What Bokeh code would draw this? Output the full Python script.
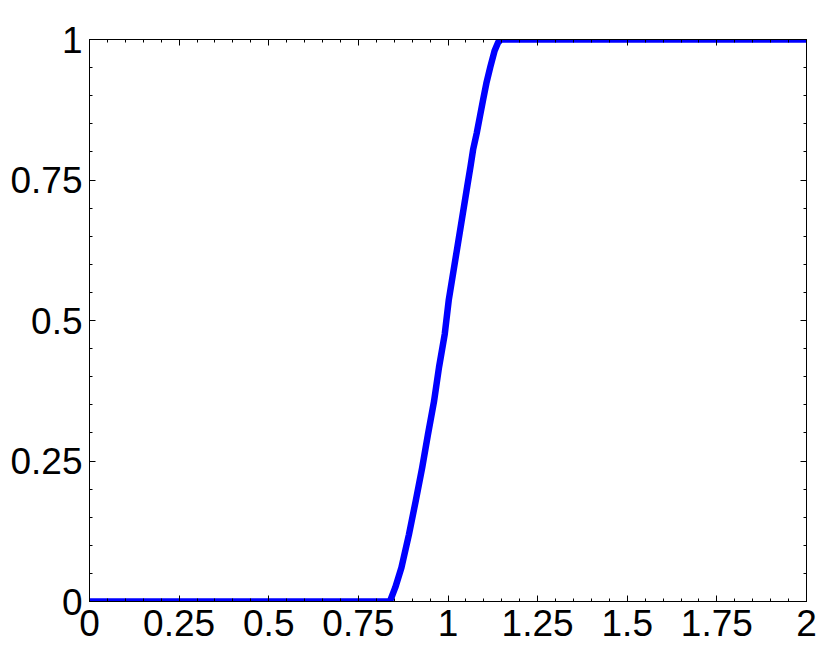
from bokeh.plotting import figure
from bokeh.models import LinearAxis, FixedTicker, Range1d
from bokeh.embed import file_html
from bokeh.resources import INLINE

# data
x_vals = [0.0, 0.838, 0.853, 0.870, 0.891, 0.910, 0.928, 0.944, 0.961, 0.975, 0.991,
          1.002, 1.026, 1.054, 1.063, 1.070, 1.080, 1.089, 1.098, 1.107, 1.118, 1.130,
          1.140, 1.148, 2.0]
y_vals = [0.0, 0.0, 0.025, 0.060, 0.119, 0.179, 0.238, 0.297, 0.356, 0.417, 0.476,
          0.536, 0.630, 0.740, 0.775, 0.804, 0.833, 0.863, 0.893, 0.922, 0.951, 0.980,
          0.995, 1.0, 1.0]

x_ticks = [0, 0.25, 0.5, 0.75, 1, 1.25, 1.5, 1.75, 2]
x_labels = ["0", "0.25", "0.5", "0.75", "1", "1.25", "1.5", "1.75", "2"]
y_ticks = [0, 0.25, 0.5, 0.75, 1]
y_labels = ["0", "0.25", "0.5", "0.75", "1"]
x_minor = [round(i * 0.05, 2) for i in range(41)]
y_minor = [round(i * 0.05, 2) for i in range(21)]

FONT = "Liberation Sans"
FS = "37px"

p = figure(width=822, height=652, output_backend="svg", toolbar_location=None,
           x_range=Range1d(0, 2), y_range=Range1d(0, 1),
           x_axis_location=None, y_axis_location=None,
           min_border_left=89, min_border_right=16, min_border_top=39, min_border_bottom=51)
p.xgrid.visible = False
p.ygrid.visible = False
p.outline_line_color = "black"
p.background_fill_color = "white"
p.border_fill_color = "white"


def style(ax, labels, ticks, minor, show):
    ax.ticker = FixedTicker(ticks=ticks, minor_ticks=minor)
    ax.major_tick_in = 6
    ax.major_tick_out = 0
    ax.minor_tick_in = 3
    ax.minor_tick_out = 0
    ax.axis_line_color = "black"
    ax.major_tick_line_color = "black"
    ax.minor_tick_line_color = "black"
    ax.axis_line_width = 1
    if show:
        ax.major_label_overrides = {t: l for t, l in zip(ticks, labels)}
        ax.major_label_text_font = FONT
        ax.major_label_text_font_size = FS
        ax.major_label_text_color = "black"
    else:
        ax.major_label_overrides = {t: "" for t in ticks}
        ax.major_label_text_font_size = "0px"
        ax.major_label_standoff = 0


xb = LinearAxis()
style(xb, x_labels, x_ticks, x_minor, True)
xb.major_label_standoff = 8
p.add_layout(xb, "below")

xt = LinearAxis()
style(xt, x_labels, x_ticks, x_minor, False)
p.add_layout(xt, "above")

yl = LinearAxis()
style(yl, y_labels, y_ticks, y_minor, True)
yl.major_label_standoff = 7
p.add_layout(yl, "left")

yr = LinearAxis()
style(yr, y_labels, y_ticks, y_minor, False)
p.add_layout(yr, "right")

p.line(x_vals, y_vals, line_color="#0000FF", line_width=6.5, line_join="round", line_cap="round")

open("out.html", "w").write(file_html(p, INLINE))
